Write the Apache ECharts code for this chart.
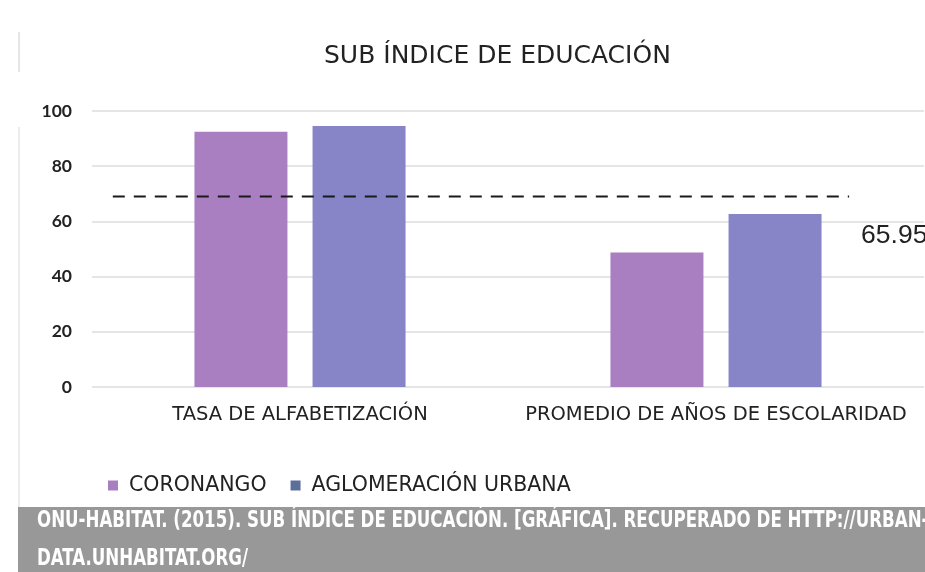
<!DOCTYPE html>
<html><head><meta charset="utf-8">
<script src="https://cdn.jsdelivr.net/npm/echarts@6/dist/echarts.min.js"></script>
<style>html,body{margin:0;padding:0;background:#fff}#c{width:925px;height:572px}</style>
</head><body><div id="c"></div>
<script>
const titleText = 'SUB ÍNDICE DE EDUCACIÓN';
const categories = ['TASA DE ALFABETIZACIÓN', 'PROMEDIO DE AÑOS DE ESCOLARIDAD'];
const seriesNames = ['CORONANGO', 'AGLOMERACIÓN URBANA'];
const coronango = [92.5, 48.7];
const aglomeracion = [94.6, 62.7];
const yMin = 0, yMax = 100, yStep = 20;
const refLineValue = 69;
const refLineSpan = [0.025, 0.91];
const refLabel = '65.95';
const sourceLines = ['ONU-HABITAT. (2015). SUB ÍNDICE DE EDUCACIÓN. [GRÁFICA]. RECUPERADO DE HTTP://URBAN-', 'DATA.UNHABITAT.ORG/'];

const FONT = "'DejaVu Sans', sans-serif";
const FOOTFONT = "bold 23px 'Liberation Sans Narrow', 'DejaVu Sans Condensed', 'DejaVu Sans', sans-serif";
const chart = echarts.init(document.getElementById('c'), null, {renderer: 'canvas'});
chart.setOption({
  animation: false,
  backgroundColor: '#fff',
  title: {
    text: titleText, left: 319, top: 39,
    textStyle: {fontFamily: FONT, fontSize: 25, fontWeight: 'normal', color: '#222'}
  },
  legend: {
    left: 103, top: 470, itemWidth: 10, itemHeight: 10, itemGap: 24, icon: 'rect',
    textStyle: {fontFamily: FONT, fontSize: 20.5, color: '#222', padding: [0, 0, 0, 6]},
    data: [
      {name: seriesNames[0], itemStyle: {color: '#a77fc1'}},
      {name: seriesNames[1], itemStyle: {color: '#5b6e9c'}}
    ]
  },
  grid: {left: 92, right: 1, top: 111, bottom: 185},
  xAxis: [
    {type: 'category', data: categories,
     axisLine: {show: false}, axisTick: {show: false},
     axisLabel: {interval: 0, margin: 18, fontFamily: FONT, fontSize: 19.5, color: '#222'}},
    {type: 'value', min: 0, max: 1, show: false}
  ],
  yAxis: {
    type: 'value', min: yMin, max: yMax, interval: yStep,
    axisLine: {show: false}, axisTick: {show: false},
    axisLabel: {margin: 20, fontFamily: "Lato, sans-serif", fontSize: 17.5, fontWeight: 'bold', color: '#222'},
    splitLine: {lineStyle: {color: '#dcdcdc', width: 1.5}}
  },
  series: [
    {name: seriesNames[0], type: 'bar', data: coronango, barWidth: 93, barGap: '27%',
     itemStyle: {color: '#a97fc2'}},
    {name: seriesNames[1], type: 'bar', data: aglomeracion, barWidth: 93,
     itemStyle: {color: '#8784c7'}},
    {name: 'ref', type: 'line', xAxisIndex: 1, symbol: 'none',
     data: [[refLineSpan[0], refLineValue], [refLineSpan[1], refLineValue]],
     lineStyle: {color: '#1a1a1a', width: 2, type: [12, 9]},
     endLabel: {show: true, formatter: refLabel, offset: [4, 39],
       fontFamily: "'Liberation Sans', Arial, sans-serif", fontSize: 26.5, color: '#222'},
     z: 5}
  ],
  graphic: [
    {type: 'line', shape: {x1: 19, y1: 32, x2: 19, y2: 72}, style: {stroke: '#ddd', lineWidth: 1.5}},
    {type: 'line', shape: {x1: 19, y1: 127, x2: 19, y2: 508}, style: {stroke: '#e6e6e6', lineWidth: 1.5}},
    {type: 'rect', shape: {x: 18, y: 507, width: 907, height: 65}, style: {fill: '#989898'}},
    {type: 'text', x: 37, y: 521, scaleX: 0.805, style: {text: sourceLines[0], fill: '#fff',
      font: FOOTFONT, textVerticalAlign: 'middle'}},
    {type: 'text', x: 37, y: 559, scaleX: 0.805, style: {text: sourceLines[1], fill: '#fff',
      font: FOOTFONT, textVerticalAlign: 'middle'}}
  ]
});
</script></body></html>
